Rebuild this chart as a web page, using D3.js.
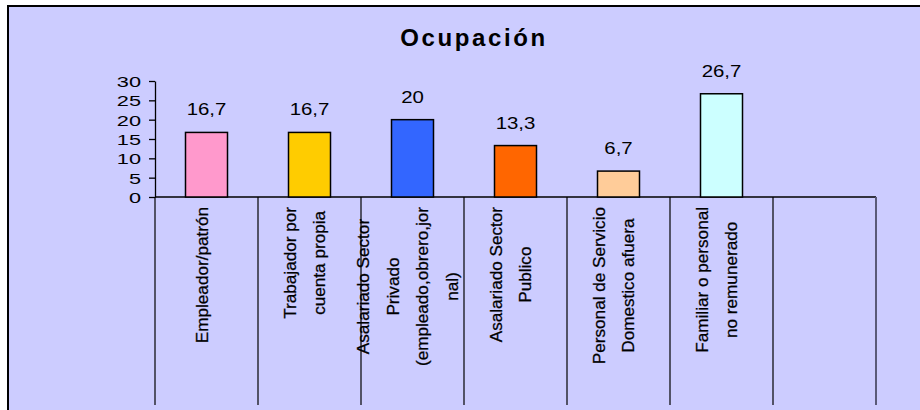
<!DOCTYPE html>
<html>
<head>
<meta charset="utf-8">
<script src="https://cdn.jsdelivr.net/npm/d3@7"></script>
<style>
    body { margin: 0; background: #fff; }
    text { font-family: "Liberation Sans", Arial, sans-serif; fill: #000; }
</style>
</head>
<body>
<div id="chart"></div>
<script>
// data
var titleText = "Ocupación";
var categories = [
    ["Empleador/patrón"],
    ["Trabajador por", "cuenta propia"],
    ["Asalariado Sector", "Privado", "(empleado,obrero,jor", "nal)"],
    ["Asalariado Sector", "Publico"],
    ["Personal de Servicio", "Domestico afuera"],
    ["Familiar o personal", "no remunerado"]
];
var values = [16.7, 16.7, 20, 13.3, 6.7, 26.7];
var barColors = ["#FF99CC", "#FFCC00", "#3366FF", "#FF6600", "#FFCC99", "#CCFFFF"];
var yTicks = [0, 5, 10, 15, 20, 25, 30];
var emptySlots = 1; // excel left one blank category at the end

// comma decimals
var esLocale = d3.formatLocale({ decimal: ",", thousands: ".", grouping: [3], currency: ["", ""] });
var format = esLocale.format("~g");

var width = 920, height = 410;

var svg = d3.select("#chart").append("svg")
    .attr("width", width)
    .attr("height", height);

// chart area background + border (cut off at right/bottom)
svg.append("rect")
    .attr("x", 8).attr("y", 6)
    .attr("width", width).attr("height", height)
    .style("fill", "#CCCCFF");
svg.append("path")
    .attr("d", "M8," + height + "V6H" + width)
    .style("fill", "none")
    .style("stroke", "#000")
    .style("stroke-width", 2);

// title
svg.append("text")
    .attr("x", 474)
    .attr("y", 46)
    .attr("text-anchor", "middle")
    .style("font-size", "24px")
    .style("font-weight", "bold")
    .style("letter-spacing", "2.6px")
    .text(titleText);

// scales
var x = d3.scaleBand()
    .domain(d3.range(categories.length + emptySlots))
    .range([155, 876])
    .padding(0);

var y = d3.scaleLinear()
    .domain([0, 30])
    .range([197, 81]);

var barWidth = 42;
var dividerBottom = 405;

// y axis
var yAxis = svg.append("g")
    .attr("transform", "translate(" + x.range()[0] + ",0)")
    .call(d3.axisLeft(y).tickValues(yTicks).tickSize(6).tickSizeOuter(0));

yAxis.select(".domain").style("stroke", "#000").style("stroke-width", 1.3);
yAxis.selectAll(".tick line").style("stroke", "#000").style("stroke-width", 1.3);
yAxis.selectAll(".tick text")
    .attr("x", 0)
    .attr("dy", "0.36em")
    .attr("transform", "translate(-14,0) scale(1.45,1)")
    .style("font-size", "15px")
    .style("font-family", "'Liberation Sans', Arial, sans-serif")
    .style("fill", "#000");

// x axis line + category dividers
svg.append("line")
    .attr("x1", x.range()[0]).attr("x2", x.range()[1])
    .attr("y1", y(0)).attr("y2", y(0))
    .style("stroke", "#000")
    .style("stroke-width", 1.3);

var edges = x.domain().map(function(d) { return x(d); }).concat([x.range()[1]]);
svg.append("g").selectAll(".divider")
    .data(edges)
    .enter().append("line")
    .attr("class", "divider")
    .attr("x1", function(d) { return d; })
    .attr("x2", function(d) { return d; })
    .attr("y1", y(0))
    .attr("y2", dividerBottom)
    .style("stroke", function(d, i) { return i == edges.length - 1 ? "#5a5a78" : "#000"; })
    .style("stroke-width", function(d, i) { return i == edges.length - 1 ? 2 : 1.2; });

// bars
svg.append("g").selectAll(".bar")
    .data(values)
    .enter().append("rect")
    .attr("class", "bar")
    .attr("x", function(d, i) { return x(i) + x.bandwidth() / 2 - barWidth / 2; })
    .attr("y", function(d) { return y(d); })
    .attr("width", barWidth)
    .attr("height", function(d) { return y(0) - y(d); })
    .style("fill", function(d, i) { return barColors[i]; })
    .style("stroke", "#000")
    .style("stroke-width", 1.5);

// value labels
svg.append("g").selectAll(".valueLabel")
    .data(values)
    .enter().append("text")
    .attr("class", "valueLabel")
    .attr("text-anchor", "middle")
    .attr("transform", function(d, i) {
        return "translate(" + (x(i) + x.bandwidth() / 2) + "," + (y(d) - 17) + ") scale(1.2,1)";
    })
    .style("font-size", "17px")
    .text(function(d) { return format(d); });

// rotated category labels, longest line ends near the axis, others centred on it
var labelTop = 207, lineGap = 30, labelScale = 1.1;

var label = svg.append("g").selectAll(".catLabel")
    .data(categories)
    .enter().append("g")
    .attr("class", "catLabel")
    .attr("transform", function(d, i) {
        return "translate(" + (x(i) + x.bandwidth() / 2) + "," + labelTop + ") rotate(-90) scale(" + labelScale + ",1)";
    });

label.each(function(lines) {
    var g = d3.select(this);
    var n = lines.length;
    var texts = g.selectAll("text")
        .data(lines)
        .enter().append("text")
        .attr("text-anchor", "middle")
        .attr("y", function(d, j) { return (j - (n - 1) / 2) * lineGap + 1; })
        .style("font-size", "15.6px")
        .style("stroke", "#000")
        .style("stroke-width", 0.25)
        .text(function(d) { return d; });
    var maxW = 0;
    texts.each(function() { maxW = Math.max(maxW, this.getComputedTextLength()); });
    texts.attr("x", -maxW / 2);
});
</script>
</body>
</html>
